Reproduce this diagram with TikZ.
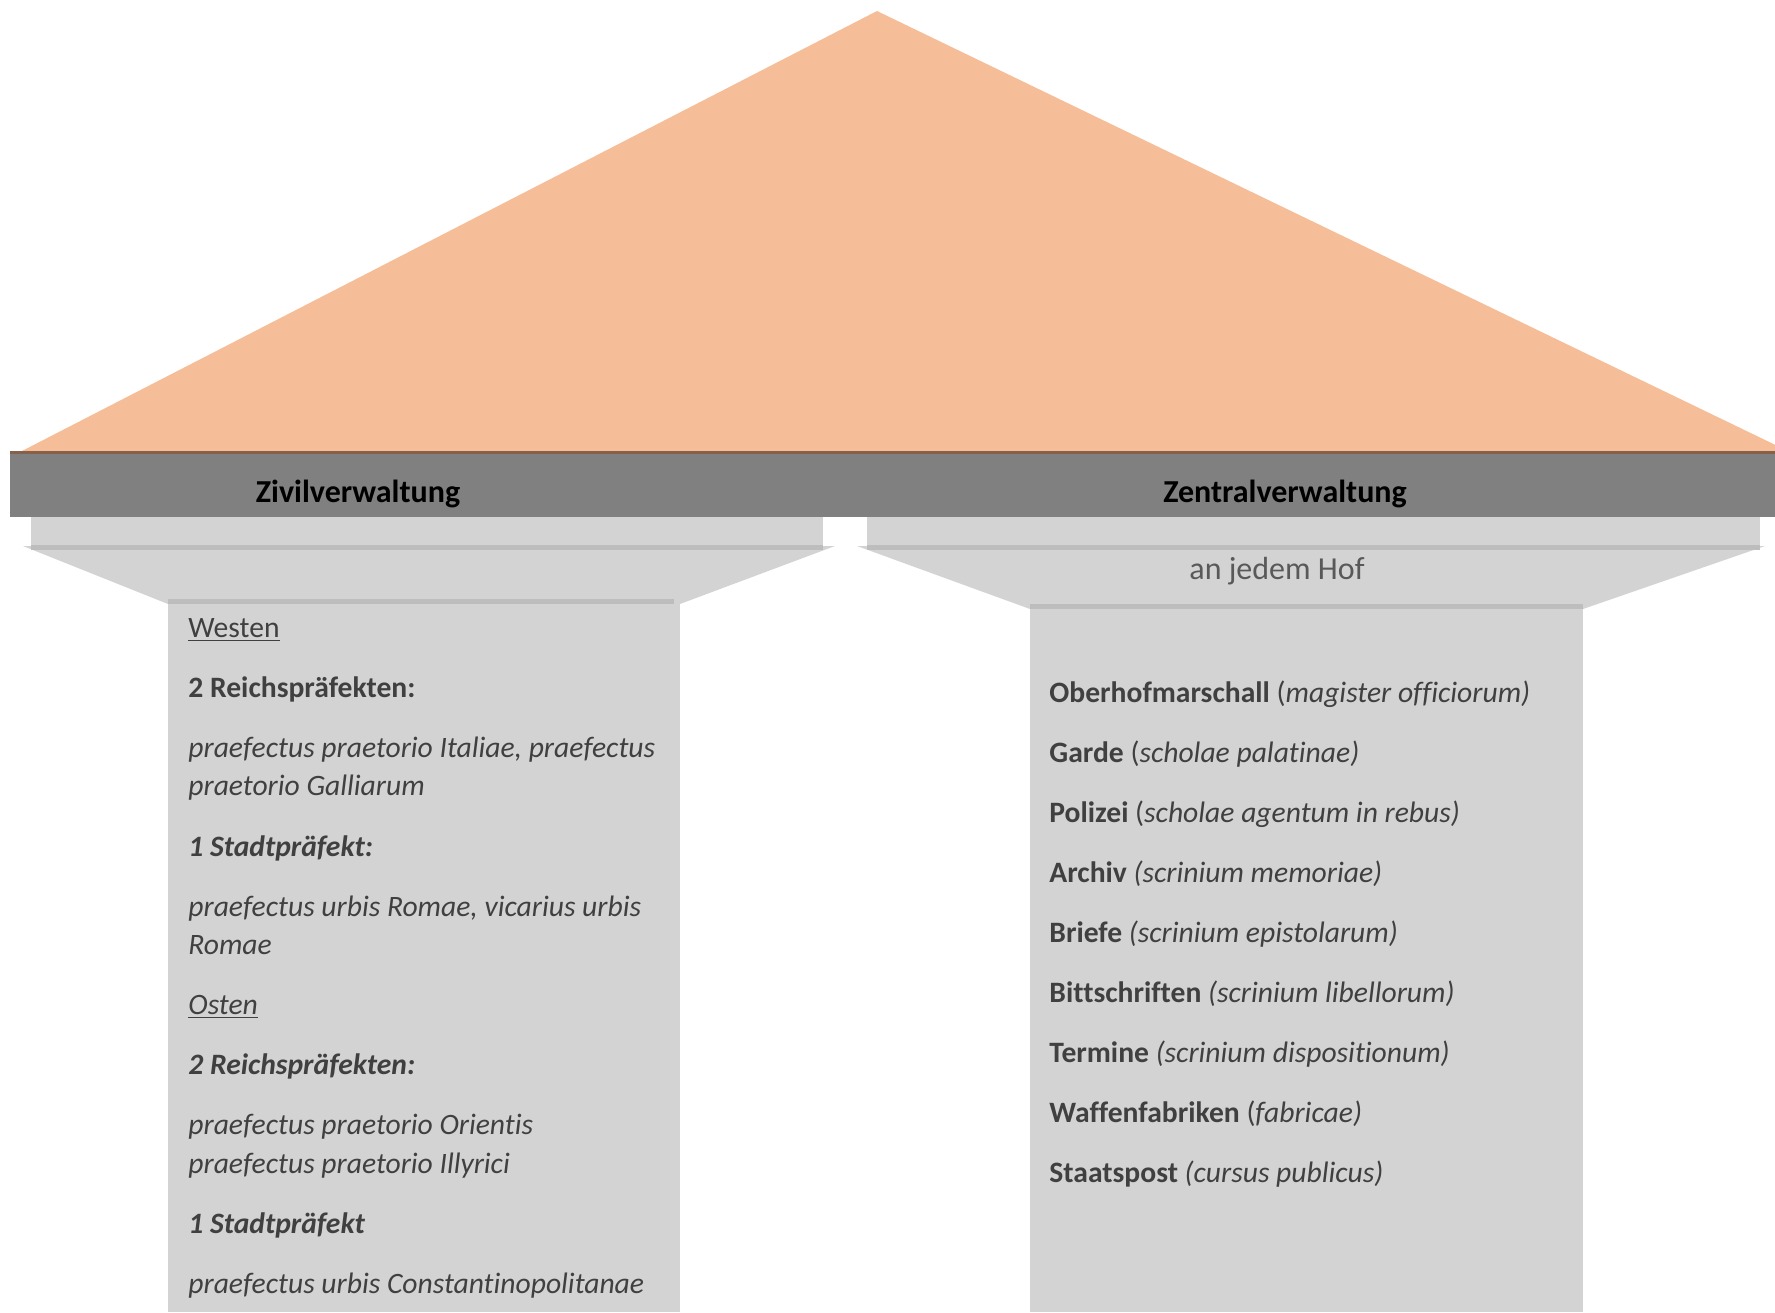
\documentclass[tikz,border=0pt]{standalone}
\usepackage{fontspec}
\setmainfont{Carlito}[Ligatures=CommonOff]
\usepackage{tikz}
\usetikzlibrary{calc}
\definecolor{roofcol}{HTML}{F6BE98}
\definecolor{roofedge}{HTML}{85604A}
\definecolor{beamcol}{HTML}{808080}
\definecolor{stonecol}{HTML}{D3D3D3}
\definecolor{stoneedge}{HTML}{BDBDBD}
\definecolor{inkcol}{HTML}{404040}
\tikzstyle{roof}=[fill=roofcol]
\tikzstyle{stone}=[fill=stonecol]
\tikzstyle{stoneline}=[fill=stoneedge]
\tikzstyle{header}=[inner sep=0pt,font=\fontsize{16}{19}\selectfont\bfseries,text=black]
\tikzstyle{item}=[anchor=mid west,inner sep=0pt,font=\fontsize{14.8}{19}\selectfont,text=inkcol]

\begin{document}
\begin{tikzpicture}[x=0.5pt,y=-0.5pt]
    \useasboundingbox (0,0) rectangle (1775,1312);

    % roof and beam
    \fill[roof] (20,452) -- (877,11) -- (1790,452) -- cycle;
    \fill[roofedge] (10,451) rectangle (1775,454);
    \fill[beamcol] (10,454) rectangle (1775,517);

    % left column
    \fill[stone] (31,517) rectangle (823,546);
    \fill[stone] (23,546) -- (835,546) -- (680,604) -- (168,604) -- cycle;
    \fill[stoneline] (31,545) rectangle (823,550);
    \fill[stone] (168,600) rectangle (680,1312);
    \fill[stoneline] (168,599) rectangle (674,604);

    % right column
    \fill[stone] (867,517) rectangle (1760,546);
    \fill[stone] (857,546) -- (1765,546) -- (1583,609) -- (1030,609) -- cycle;
    \fill[stoneline] (867,545) rectangle (1760,550);
    \fill[stone] (1030,604) rectangle (1583,1312);
    \fill[stoneline] (1030,604) rectangle (1583,609);

    % headings
    \node[header] (zivil) at (358,494) {Zivilverwaltung};
    \node[header] (zentral) at (1285,494) {Zentralverwaltung};
    \node[item,anchor=mid,text=black!65,font=\fontsize{16}{19}\selectfont] (hof) at (1277,575) {an jedem Hof};

    % civil administration
    \foreach \y/\txt [count=\i] in {633/{\underline{Westen}},
            693/{\bfseries 2 Reichspräfekten:},
            753/{\itshape praefectus praetorio Italiae, praefectus},
            791/{\itshape praetorio Galliarum},
            852/{\bfseries\itshape 1 Stadtpräfekt:},
            912/{\itshape praefectus urbis Romae, vicarius urbis},
            950/{\itshape Romae},
            1010/{\itshape\underline{Osten}},
            1070/{\bfseries\itshape 2 Reichspräfekten:},
            1130/{\itshape praefectus praetorio Orientis},
            1169/{\itshape praefectus praetorio Illyrici},
            1229/{\bfseries\itshape 1 Stadtpräfekt},
            1289/{\itshape praefectus urbis Constantinopolitanae}}
        \node[item] (civ\i) at (188,\y) {\txt};

    % central administration
    \foreach \name/\latin [count=\i from 0] in {Oberhofmarschall/{(\textit{magister officiorum)}},
            Garde/{(\textit{scholae palatinae)}},
            Polizei/{(\textit{scholae agentum in rebus)}},
            Archiv/{\textit{(scrinium memoriae)}},
            Briefe/{\textit{(scrinium epistolarum)}},
            Bittschriften/{\textit{(scrinium libellorum)}},
            Termine/{\textit{(scrinium dispositionum)}},
            Waffenfabriken/{(\textit{fabricae)}},
            Staatspost/{\textit{(cursus publicus)}}}
        \node[item] (cen\i) at (1049,698+60*\i) {\textbf{\name} \latin};

\end{tikzpicture}
\end{document}
